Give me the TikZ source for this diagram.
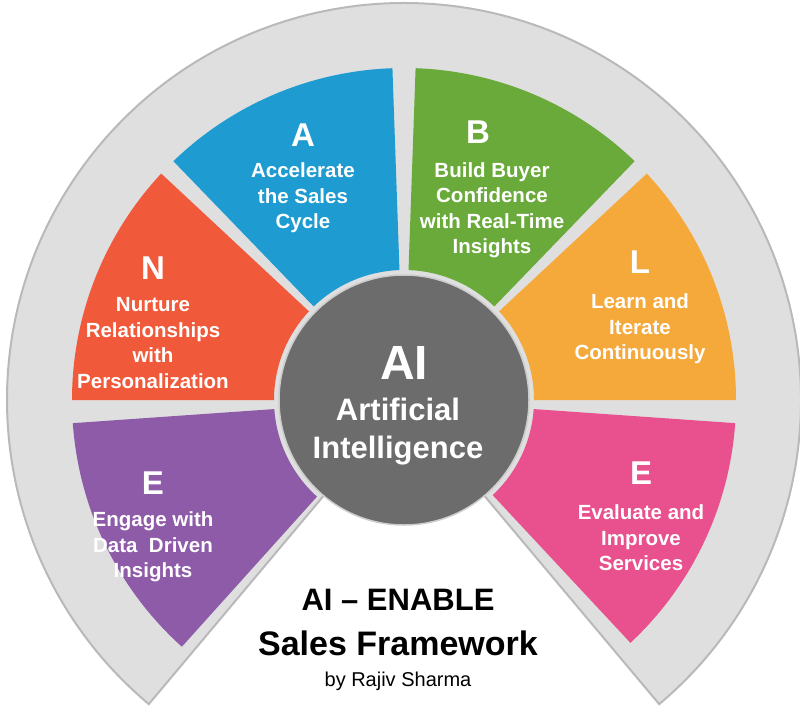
\documentclass[tikz,border=0pt]{standalone}
\usepackage{fontspec}
\setmainfont{Liberation Sans}
\begin{document}
\begin{tikzpicture}[x=1pt,y=1pt,
  lbl/.style={text=white,font=\bfseries\fontsize{20.5}{25.5}\selectfont,align=center},
  big/.style={text=white,font=\bfseries\fontsize{33}{35}\selectfont}]
\useasboundingbox (0,0) rectangle (800,-719);
\coordinate (c) at (404,-400);
\definecolor{cA}{HTML}{1E9BD0}\definecolor{cB}{HTML}{6AAA3A}
\definecolor{cL}{HTML}{F6A93B}\definecolor{cE}{HTML}{E8508E}
\definecolor{cEl}{HTML}{8E5BA8}\definecolor{cN}{HTML}{F05A3A}
\fill[gray!25,draw=gray!55,line width=2pt] (c) -- ++(230:397) arc (230:-50:397) -- cycle;
\foreach \a/\b/\col in {228/184/cEl,180/137/cN,134/92/cA,88/46/cB,43/0/cL,-4/-47/cE}{
  \fill[\col] ([shift={(\a:130)}]c) arc (\a:\b:130) -- ([shift={(\b:332)}]c) arc (\b:\a:332) -- cycle;}
\fill[gray!85!black,draw=gray!40,line width=1.5pt] (c) circle (125);
\node[big,font=\bfseries\fontsize{48}{50}\selectfont] (ai) at (404,-363) {AI};
\node[text=white,font=\bfseries\fontsize{31}{38}\selectfont,align=center] (art) at (398,-432) {Artificial\\Intelligence};
\node[big] (la) at (303,-135) {A};
\node[lbl] (ta) at (303,-198) {Accelerate\\the Sales\\Cycle};
\node[big] (lb) at (478,-132) {B};
\node[lbl] (tb) at (492,-210) {Build Buyer\\Confidence\\with Real-Time\\Insights};
\node[big] (ln) at (153,-268) {N};
\node[lbl] (tn) at (153,-343) {Nurture\\Relationships\\with\\Personalization};
\node[big] (ll) at (640,-262) {L};
\node[lbl] (tl) at (640,-329) {Learn and\\Iterate\\Continuously};
\node[big] (le) at (153,-483) {E};
\node[lbl] (te) at (153,-547) {Engage with\\Data\ \ Driven\\Insights};
\node[big] (lr) at (641,-473) {E};
\node[lbl] (tr) at (641,-538) {Evaluate and\\Improve\\Services};
\node[font=\bfseries\fontsize{31}{34}\selectfont] (t1) at (398,-600) {AI -- ENABLE};
\node[font=\bfseries\fontsize{34}{36}\selectfont] (t2) at (398,-643) {Sales Framework};
\node[font=\fontsize{20}{22}\selectfont] (t3) at (398,-681) {by Rajiv Sharma};
\end{tikzpicture}
\end{document}
